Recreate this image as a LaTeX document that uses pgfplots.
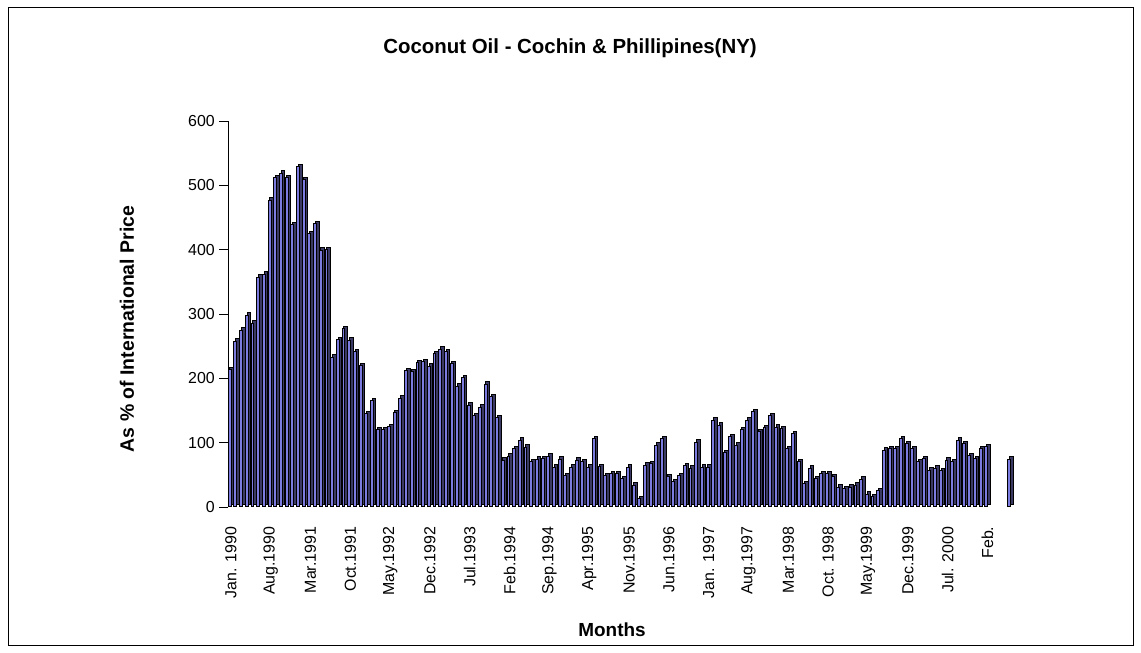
\documentclass[border=0pt]{standalone}
\usepackage{pgfplots}
\pgfplotsset{compat=1.18}
\usepackage{pgfplotstable}
\usepackage{fontspec}
\setmainfont{Liberation Sans}
\definecolor{barfront}{RGB}{124,124,224}
\definecolor{barside}{RGB}{58,58,100}
\pgfplotstableread{
i v
0 213
1 258
2 275
3 298
4 286
5 357
6 362
7 477
8 512
9 519
10 512
11 439
12 529
13 509
14 425
15 440
16 399
17 400
18 233
19 260
20 277
21 259
22 241
23 220
24 145
25 165
26 120
27 120
28 125
29 147
30 169
31 212
32 210
33 224
34 226
35 219
36 238
37 245
38 241
39 223
40 188
41 201
42 158
43 142
44 155
45 191
46 171
47 139
48 73
49 79
50 91
51 104
52 93
53 70
54 74
55 75
56 79
57 62
58 74
59 49
60 62
61 73
62 70
63 62
64 106
65 63
66 49
67 52
68 52
69 44
70 62
71 34
72 13
73 65
74 67
75 96
76 106
77 47
78 39
79 49
80 64
81 60
82 101
83 62
84 62
85 135
86 127
87 84
88 109
89 96
90 120
91 135
92 148
93 117
94 123
95 142
96 124
97 122
98 91
99 114
100 70
101 36
102 60
103 44
104 52
105 52
106 47
107 31
108 28
109 31
110 34
111 43
112 20
113 16
114 25
115 88
116 91
117 91
118 106
119 98
120 91
121 70
122 75
123 57
124 60
125 56
126 73
127 70
128 104
129 98
130 80
131 75
132 91
133 94
137 74
}\coco
\begin{document}
\begin{tikzpicture}
\path (0,0) rectangle (1141bp,653bp);
\draw[line width=1bp] (8bp,7.5bp) rectangle (1133bp,645.5bp);
\begin{axis}[
  at={(228bp,146bp)}, anchor=south west,
  scale only axis, width=785bp, height=386bp,
  xmin=-0.5, xmax=137.5, ymin=0, ymax=600,
  axis lines*=left,
  x axis line style={draw=none},
  y axis line style={line width=0.9bp},
  ytick={0,100,...,600},
  xtick={0,7,...,133},
  xticklabels={Jan. 1990,Aug.1990,Mar.1991,Oct.1991,May.1992,Dec.1992,Jul.1993,Feb.1994,Sep.1994,Apr.1995,Nov.1995,Jun.1996,Jan. 1997,Aug.1997,Mar.1998,Oct. 1998,May.1999,Dec.1999,Jul. 2000,Feb.},
  x tick style={draw=none},
  y tick style={black, line width=0.9bp},
  tick align=outside, major tick length=9bp,
  /pgf/number format/assume math mode=true,
  ticklabel style={font=\fontsize{16}{18}\selectfont},
  xticklabel style={rotate=90, anchor=east, inner sep=0pt, xshift=1.5bp},
  xticklabel shift=12bp,
  yticklabel style={inner sep=0pt},
  yticklabel shift=4bp,
  clip=false,
]
\addplot[ybar, bar width=3.8bp, bar shift=1.0bp, fill=barside, draw=black, line width=1bp, yshift=2.4bp] table[x=i,y=v] {\coco};
\addplot[ybar, bar width=2.9bp, bar shift=-1.1bp, fill=barfront, draw=black, line width=1bp] table[x=i,y=v] {\coco};
\end{axis}
\node[font=\bfseries\fontsize{20.5}{24}\selectfont] at (570bp,605bp) {Coconut Oil - Cochin \& Phillipines(NY)};
\node[rotate=90, font=\bfseries\fontsize{19.5}{22}\selectfont] at (127bp,324bp) {As \% of International Price};
\node[font=\bfseries\fontsize{19}{22}\selectfont] at (612bp,23bp) {Months};
\end{tikzpicture}
\end{document}
